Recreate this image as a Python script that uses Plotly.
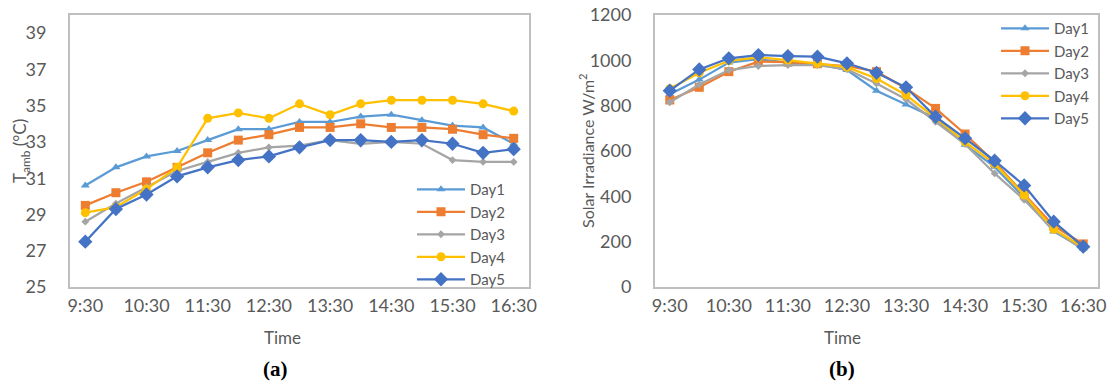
import plotly.graph_objects as go

times = ["9:30", "10:00", "10:30", "11:00", "11:30", "12:00", "12:30", "13:00",
         "13:30", "14:00", "14:30", "15:00", "15:30", "16:00", "16:30"]
hour_ticks = times[::2]
days = ["Day1", "Day2", "Day3", "Day4", "Day5"]

# (a) ambient temperature, °C
tamb_day1 = [30.6, 31.6, 32.2, 32.5, 33.1, 33.7, 33.7, 34.1, 34.1, 34.4, 34.5, 34.2, 33.9, 33.8, 32.9]
tamb_day2 = [29.5, 30.2, 30.8, 31.6, 32.4, 33.1, 33.4, 33.8, 33.8, 34.0, 33.8, 33.8, 33.7, 33.4, 33.2]
tamb_day3 = [28.6, 29.6, 30.5, 31.4, 31.9, 32.4, 32.7, 32.8, 33.1, 32.9, 33.0, 32.9, 32.0, 31.9, 31.9]
tamb_day4 = [29.1, 29.4, 30.4, 31.6, 34.3, 34.6, 34.3, 35.1, 34.5, 35.1, 35.3, 35.3, 35.3, 35.1, 34.7]
tamb_day5 = [27.5, 29.3, 30.1, 31.1, 31.6, 32.0, 32.2, 32.7, 33.1, 33.1, 33.0, 33.1, 32.9, 32.4, 32.6]

# (b) solar irradiance, W/m²
irr_day1 = [850, 915, 990, 1005, 990, 985, 957, 866, 805, 745, 628, 530, 395, 245, 170]
irr_day2 = [825, 881, 950, 994, 992, 985, 975, 950, 876, 788, 675, 550, 410, 270, 190]
irr_day3 = [815, 893, 957, 975, 979, 979, 960, 898, 828, 729, 630, 501, 385, 250, 165]
irr_day4 = [875, 945, 998, 1013, 1001, 987, 970, 920, 847, 745, 640, 543, 406, 255, 175]
irr_day5 = [866, 960, 1009, 1023, 1019, 1016, 987, 945, 881, 751, 656, 557, 448, 288, 178]

colors = ["#5B9BD5", "#ED7D31", "#A5A5A5", "#FFC000", "#4472C4"]
symbols = ["triangle-up", "square", "diamond", "circle", "diamond"]
sizes = [8, 9, 6, 9, 11]

TXT = "#595959"
FONT = "Lato"
TICKSIZE = 18

fig = go.Figure()

for i, (name, ys) in enumerate(zip(days, [tamb_day1, tamb_day2, tamb_day3, tamb_day4, tamb_day5])):
    fig.add_trace(go.Scatter(
        x=times, y=ys, name=name, mode="lines+markers",
        line=dict(color=colors[i], width=2.25),
        marker=dict(symbol=symbols[i], size=sizes[i], color=colors[i]),
        xaxis="x", yaxis="y", legend="legend"))

for i, (name, ys) in enumerate(zip(days, [irr_day1, irr_day2, irr_day3, irr_day4, irr_day5])):
    fig.add_trace(go.Scatter(
        x=times, y=ys, name=name, mode="lines+markers",
        line=dict(color=colors[i], width=2.25),
        marker=dict(symbol=symbols[i], size=sizes[i], color=colors[i]),
        xaxis="x2", yaxis="y2", legend="legend2"))

axis_common = dict(showline=True, mirror=True, linecolor="#BFBFBF", linewidth=2,
                   showgrid=False, zeroline=False, automargin=False,
                   tickfont=dict(family=FONT, size=TICKSIZE, color=TXT))

xcommon = dict(axis_common, type="category", range=[-0.5, 14.5],
               tickmode="array", tickvals=hour_ticks, ticktext=hour_ticks,
               ticks="outside", ticklen=1, tickcolor="rgba(0,0,0,0)",
               ticklabelstandoff=0)

ycommon = dict(axis_common, ticks="outside", ticklen=18, tickcolor="rgba(0,0,0,0)")

legend_common = dict(xanchor="left", yanchor="top", bgcolor="rgba(0,0,0,0)",
                     font=dict(family=FONT, size=15, color=TXT),
                     tracegroupgap=0, itemwidth=48)

fig.update_layout(
    width=1108, height=383,
    margin=dict(l=0, r=0, t=0, b=0, autoexpand=False),
    paper_bgcolor="white", plot_bgcolor="white",
    font=dict(family=FONT, size=16, color=TXT),
    xaxis=dict(xcommon, domain=[70/1108, 529/1108], anchor="y"),
    yaxis=dict(ycommon, domain=[1-287/383, 1-15/383], anchor="x",
               range=[25, 40], tickmode="array", tickvals=list(range(25, 40, 2))),
    xaxis2=dict(xcommon, domain=[655/1108, 1098/1108], anchor="y2"),
    yaxis2=dict(ycommon, domain=[1-287/383, 1-15/383], anchor="x2",
                range=[0, 1200], tickmode="array", tickvals=list(range(0, 1201, 200))),
    legend=dict(legend_common, x=412/1108, y=1-173/383),
    legend2=dict(legend_common, x=996/1108, y=1-12/383),
    annotations=[
        dict(text="T<sub>amb</sub> (°C)", x=21/1108, y=1-151/383, xref="paper", yref="paper",
             xanchor="center", yanchor="middle",
             textangle=-90, showarrow=False, font=dict(family=FONT, size=17, color=TXT)),
        dict(text="Solar Irradiance W/m<sup>2</sup>", x=586/1108, y=1-151/383, xref="paper",
             yref="paper", xanchor="center", yanchor="middle", textangle=-90, showarrow=False,
             font=dict(family=FONT, size=16, color=TXT)),
        dict(text="Time", x=282/1108, y=1-337/383, xref="paper", yref="paper",
             xanchor="center", yanchor="middle",
             showarrow=False, font=dict(family=FONT, size=17, color=TXT)),
        dict(text="Time", x=842/1108, y=1-337/383, xref="paper", yref="paper",
             xanchor="center", yanchor="middle",
             showarrow=False, font=dict(family=FONT, size=17, color=TXT)),
        dict(text="<b>(a)</b>", x=275/1108, y=1-369/383, xref="paper", yref="paper",
             xanchor="center", yanchor="middle",
             showarrow=False, font=dict(family="Liberation Serif", size=21, color="black")),
        dict(text="<b>(b)</b>", x=842/1108, y=1-369/383, xref="paper", yref="paper",
             xanchor="center", yanchor="middle",
             showarrow=False, font=dict(family="Liberation Serif", size=21, color="black")),
    ],
)

fig.write_html("out.html", config={"displayModeBar": False},
               post_script="document.body.style.margin='0';document.body.style.padding='0';")
